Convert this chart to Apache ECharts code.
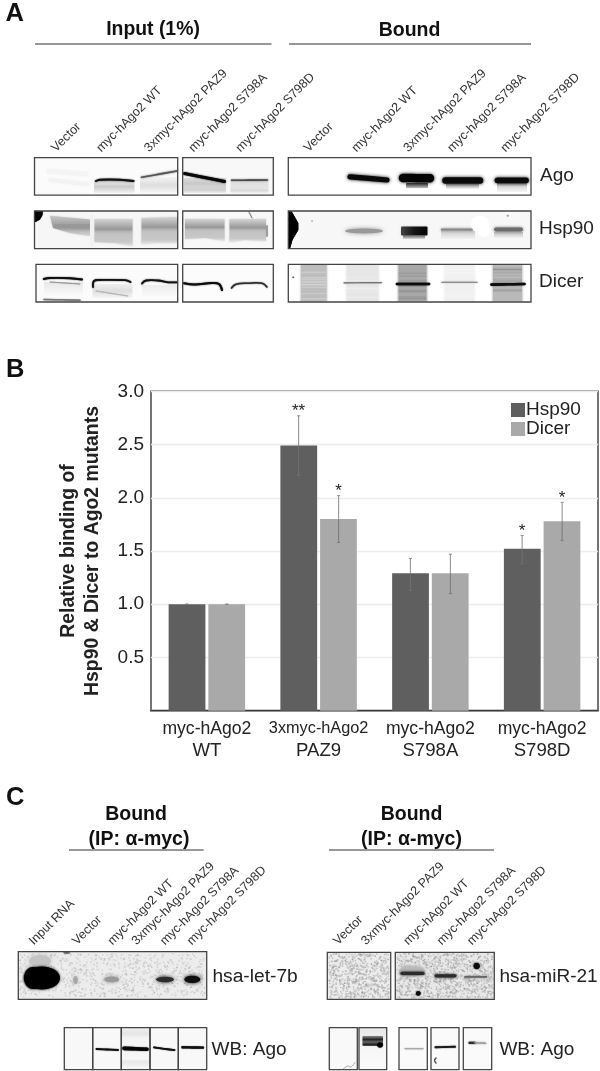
<!DOCTYPE html>
<html>
<head>
<meta charset="utf-8">
<style>html,body{margin:0;padding:0;background:#fff}#c{width:600px;height:1071px}</style>
<script src="https://cdn.jsdelivr.net/npm/echarts@6/dist/echarts.min.js"></script>
</head>
<body>
<div id="c"></div>
<script>
// ---- Panel B data ----
const categories = ['myc-hAgo2\nWT', '3xmyc-hAgo2\nPAZ9', 'myc-hAgo2\nS798A', 'myc-hAgo2\nS798D'];
const hsp90 = [1.0, 2.49, 1.29, 1.52];
const dicer = [1.0, 1.80, 1.29, 1.78];
const hsp90Low = [1.0, 2.21, 1.13, 1.38];
const hsp90High = [1.0, 2.77, 1.43, 1.645];
const dicerLow = [1.0, 1.58, 1.10, 1.60];
const dicerHigh = [1.0, 2.02, 1.47, 1.957];
const hsp90Marks = ['', '**', '', '*'];
const dicerMarks = ['', '*', '', '*'];
const yTicks = [0.5, 1.0, 1.5, 2.0, 2.5, 3.0];

// ---- Text of the blot panels ----
const laneNames = ['Vector', 'myc-hAgo2 WT', '3xmyc-hAgo2 PAZ9', 'myc-hAgo2 S798A', 'myc-hAgo2 S798D'];
const rowNames = ['Ago', 'Hsp90', 'Dicer'];

const FONT = '"Liberation Sans", Arial, sans-serif';
const g = [];

function txt(text, x, y, size, opt) {
  opt = opt || {};
  g.push({type:'text', x:x, y:y, rotation:opt.rot||0, z:20, silent:true, style:{text:text, fontFamily:FONT, fontSize:size,
    fontWeight:opt.bold?'bold':'normal', fill:opt.fill||'#222', textAlign:opt.align||'left', textVerticalAlign:'middle'}});
}
function slanted(text, x, y) { txt(text, x, y, 12.6, {rot:Math.PI/4, fill:'#333'}); }
function rule(x1, x2, y) { g.push({type:'line', z:10, silent:true, shape:{x1:x1,y1:y,x2:x2,y2:y}, style:{stroke:'#333', lineWidth:1.2}}); }
function rect(x, y, w, h, fill, blur, op) {
  g.push({type:'rect', z:5, silent:true, shape:{x:x,y:y,width:w,height:h,r:blur?1:0},
    style:{fill:fill, shadowBlur:blur||0, shadowColor:typeof fill==='string'?fill:'#ccc', opacity:op==null?1:op}});
}
function frame(x, y, w, h) {
  g.push({type:'rect', z:9, silent:true, shape:{x:x,y:y,width:w,height:h}, style:{fill:'none', stroke:'#444', lineWidth:1.3}});
}
function vgrad(stops) { return {type:'linear', x:0, y:0, x2:0, y2:1, colorStops:stops.map(s => ({offset:s[0], color:s[1]}))}; }
function hgrad(stops) { return {type:'linear', x:0, y:0, x2:1, y2:0, colorStops:stops.map(s => ({offset:s[0], color:s[1]}))}; }
function curve(points, w, color, blur, z) {
  g.push({type:'polyline', z:z||6, silent:true, shape:{points:points, smooth:0.4},
    style:{fill:'none', stroke:color, lineWidth:w, shadowBlur:blur==null?2:blur, shadowColor:color, lineCap:'round', lineJoin:'round'}});
}
function band(x1, y1, x2, y2, w, color, blur, z) { curve([[x1,y1],[(x1+x2)/2,(y1+y2)/2],[x2,y2]], w, color, blur, z); }
function poly(points, fill, blur, z) {
  g.push({type:'polygon', z:z||5, silent:true, shape:{points:points, smooth:0},
    style:{fill:fill, shadowBlur:blur||0, shadowColor:typeof fill==='string'?fill:'#ccc'}});
}
function blob(cx, cy, rx, ry, color, blur, z) {
  g.push({type:'ellipse', z:z||6, silent:true, shape:{cx:cx,cy:cy,rx:rx,ry:ry},
    style:{fill:color, shadowBlur:blur==null?3:blur, shadowColor:color}});
}
function grain(i) { const s = Math.sin(i*12.9898)*43758.5453; return s - Math.floor(s); }
function speckle(x, y, w, h, count, seed, dark, op) {
  for (let i = 0; i < count; i++) {
    const px = x + grain(seed+i*3+1)*(w-2), py = y + grain(seed+i*3+2)*(h-2), t = grain(seed+i*3+3);
    const sz = 1 + t*1.1, c = Math.round(dark + t*90);
    rect(px, py, sz, sz, 'rgb('+c+','+c+','+c+')', 0, op);
  }
}
function stripes(x, w, y, h, seed, color) {
  for (let i = 0; i < 9; i++) {
    rect(x+1, y + grain(seed+i)*h, w-2, 1 + grain(seed+i+40)*1.5, color, 0, 0.22);
  }
}

// ---- Panel letters ----
txt('A', 5.5, 14, 25.5, {bold:true, fill:'#111'});
txt('B', 6, 370, 25.5, {bold:true, fill:'#111'});
txt('C', 6, 798, 25.5, {bold:true, fill:'#111'});

// ---- Panel A ----
txt('Input (1%)', 153, 30, 19.4, {bold:true, align:'center', fill:'#111'});
txt('Bound', 409.5, 31, 19.5, {bold:true, align:'center', fill:'#111'});
rule(35, 271.5, 44); rule(289, 531, 44);
[53.6, 98.7, 146.6, 191, 238].forEach((x,i) => slanted(laneNames[i], x, 150));
[306, 354, 405.7, 449.7, 503].forEach((x,i) => slanted(laneNames[i], x, 150));
txt(rowNames[0], 540, 175.5, 19);
txt(rowNames[1], 539, 228.5, 19);
txt(rowNames[2], 539, 281.5, 19);

// Panel grounds
rect(34.5, 157.7, 143.5, 37.6, '#fbfbfb');
rect(182.5, 157.7, 90.5, 37.6, '#f8f8f8');
rect(34.5, 211, 143.5, 37.7, '#f6f6f6');
rect(182.5, 211, 90.5, 37.7, '#f8f8f8');
rect(36, 264.3, 142, 37.7, '#fbfbfb');
rect(182.5, 264.3, 90.5, 37.7, '#fcfcfc');
rect(288, 211, 243, 37.7, '#f7f7f7');

// Ago input
band(49, 171, 86, 174, 5, '#f4f4f4', 2);
band(50, 180, 88, 184, 4, '#f3f3f3', 2);
rect(94, 180, 40.5, 13, vgrad([[0,'#cfcfcf'],[.3,'#dcdcdc'],[.5,'#cbcbcb'],[.75,'#dedede'],[1,'#f1f1f1']]));
rect(140, 177, 38, 16, vgrad([[0,'#f4f4f4'],[.5,'#dedede'],[.7,'#e6e6e6'],[1,'#f6f6f6']]));
rect(184, 178, 42, 15, vgrad([[0,'#ddd'],[.35,'#c9c9c9'],[.6,'#d4d4d4'],[.8,'#d0d0d0'],[1,'#ececec']]));
rect(230.5, 181, 38, 12, vgrad([[0,'#ddd'],[.6,'#e4e4e4'],[.8,'#dadada'],[1,'#f0f0f0']]));
curve([[96,181],[100,179.7],[120,179.7],[133.5,181]], 1.9, '#111', 1.5);
band(141.5, 177.3, 177, 171, 1.6, '#555', 1.8);
band(184.5, 173.5, 224.5, 181.5, 3, '#080808', 1.6);
band(231.5, 180.3, 267.5, 180, 1.6, '#4a4a4a', 1.6);
// Ago bound
band(350, 176.8, 387, 180, 5.2, '#0a0a0a', 3.5);
band(403, 178, 430, 178.3, 8.5, '#030303', 3.5);
rect(406, 183, 22, 5, vgrad([[0,'#333'],[1,'#bbb']]), 1);
band(445.5, 180.6, 480, 180.6, 6.5, '#0a0a0a', 3.5);
rect(446, 184, 33, 5, vgrad([[0,'#999'],[1,'#f4f4f4']]));
band(497.5, 180.3, 526, 180.3, 5.8, '#0a0a0a', 3.5);
rect(497, 183, 30, 9, vgrad([[0,'#999'],[.4,'#d8d8d8'],[1,'#f6f6f6']]));

// Hsp90 input lanes
function lane(pts, stops) { poly(pts, vgrad(stops), 2); }
const laneStops = [[0,'#d4d4d4'],[.2,'#b4b4b4'],[.38,'#989898'],[.47,'#b6b6b6'],[.55,'#c2c2c2'],[.85,'#c8c8c8'],[1,'#e6e6e6']];
lane([[50,215.7],[90,219.5],[90,236],[70,233],[53,228]], [[0,'#c9c9c9'],[.3,'#acacac'],[.6,'#979797'],[.78,'#bcbcbc'],[1,'#d4d4d4']]);
rect(54, 224, 36, 2.5, '#959595', 1, 0.5);
lane([[94.5,219],[132.5,219],[132.5,246],[115,243],[94.5,242]], laneStops);
lane([[141.5,218],[177,217],[177,243],[155,243],[141.5,244]], laneStops);
lane([[185,219],[224.5,219],[224.5,241],[205,238],[185,239]], laneStops);
lane([[229.5,219],[266,219],[266,241],[245,240],[229.5,242]], laneStops);
poly([[34.5,211],[42.7,211],[42.5,215],[40,219.5],[36,221.7],[34.5,222]], '#000', 0.8, 7);
poly([[90,215],[93.5,215],[93.5,247],[90,247]], '#f1f1f1', 0, 6);
band(267, 226, 267, 236, 1.6, '#999', 1);
band(249, 212, 252, 218, 1, '#888', 0.8);
// Hsp90 bound
poly([[288,211],[291.7,211.5],[298.3,223],[298.3,230],[292.5,240],[290,248.7],[288,248.7]], '#000', 0.6, 7);
blob(364, 231, 19, 2.4, '#999', 4);
rect(401, 226.5, 26.5, 9, hgrad([[0,'#444'],[.5,'#151515'],[1,'#050505']]), 2.5);
rect(403, 235, 22, 4, vgrad([[0,'#555'],[1,'#ddd']]));
band(442, 229.6, 472, 229.6, 2.4, '#8a8a8a', 3);
rect(441, 231, 34, 8, vgrad([[0,'#ccc'],[1,'#f2f2f2']]));
band(496, 229.4, 521, 229.4, 4, '#6c6c6c', 3);
rect(494, 232, 29, 6, vgrad([[0,'#bbb'],[1,'#f2f2f2']]));
blob(480, 224, 9, 8, '#fff', 1.5, 8);
blob(484, 231, 6.5, 5.5, '#fff', 1.5, 8);
blob(507.7, 215.7, 0.9, 0.9, '#999', 0.8);
blob(312, 221, 1, 0.7, '#bbb', 0.8);

// Dicer input
rect(92.5, 284, 40, 14, vgrad([[0,'#eee'],[.5,'#dedede'],[1,'#f5f5f5']]));
rect(44, 282, 39, 14, vgrad([[0,'#e8e8e8'],[1,'#fafafa']]));
rect(142, 285, 36, 12, vgrad([[0,'#ececec'],[1,'#fbfbfb']]));
curve([[43.8,279],[50,278],[70,278.2],[82,279.5]], 1.9, '#0c0c0c', 1.4);
curve([[93,287],[94,281],[100,280],[125,280.2],[130.5,282]], 1.8, '#111', 1.4);
curve([[142,283.5],[146,280.5],[158,280.5],[168,282.3],[177,282.3]], 1.8, '#111', 1.4);
curve([[184,283.3],[195,284.5],[212,283],[219,284],[222,290]], 2.1, '#0a0a0a', 1.4);
curve([[231.5,288],[236,284.2],[248,283.2],[262,283.2],[267,287]], 1.5, '#2c2c2c', 1.4);
band(50, 282, 80, 284, 1, '#999', 1);
band(44, 299.4, 80, 300.2, 1.5, '#777', 1);
band(96, 291, 128, 296, 1, '#b5b5b5', 1);
// Dicer bound
function darkLane(x, w, color, seed, stripeColor) {
  rect(x, 265, w, 36.5, hgrad([[0,'rgba(255,255,255,0)'],[.1,color],[.9,color],[1,'rgba(255,255,255,0)']]));
  stripes(x+2, w-4, 266, 33, seed, stripeColor);
}
darkLane(298.3, 31, '#bdbdbd', 3, '#fff');
darkLane(343.3, 38.5, '#e6e6e6', 15, '#fff');
darkLane(395.5, 34, '#a8a8a8', 31, '#666');
darkLane(441.5, 36, '#f0f0f0', 55, '#fff');
darkLane(490, 35, '#b9b9b9', 77, '#777');
band(344, 282.8, 381.5, 282.6, 1.2, '#777', 1.2, 7);
band(397, 284, 429, 284, 2.6, '#0a0a0a', 1.2, 7);
band(442, 282.4, 477, 282.4, 1.2, '#8e8e8e', 1.2, 7);
band(491.5, 284.6, 524.5, 284, 2.6, '#0e0e0e', 1.2, 7);
blob(293.3, 277.3, 0.9, 0.9, '#666', 0.5);

[[157.7,37.4],[211,37.7],[264.3,37.7]].forEach((r,i) => {
  frame(i===2?36:34.5, r[0], i===2?141.7:143.2, r[1]);
  frame(182.7, r[0], 90.6, r[1]);
  frame(288.3, r[0], 242.7, r[1]);
});

// ---- Panel C ----
txt('Bound', 136, 815, 19.5, {bold:true, align:'center', fill:'#111'});
txt('(IP: α-myc)', 139, 840, 19.5, {bold:true, align:'center', fill:'#111'});
rule(69, 203.6, 850);
txt('Bound', 411.5, 815, 19.5, {bold:true, align:'center', fill:'#111'});
txt('(IP: α-myc)', 411.5, 840, 19.5, {bold:true, align:'center', fill:'#111'});
rule(329, 494, 850);
slanted('Input RNA', 31.4, 943);
[74.6, 110, 134, 162.6, 189.4].forEach((x,i) => slanted(laneNames[i], x, 943));
[[335.6,0],[363.6,2],[405.7,1],[439.3,3],[469.6,4]].forEach(p => slanted(laneNames[p[1]], p[0], 943));

// let-7b
rect(18.3, 951.7, 188.4, 47.6, '#ececec');
speckle(19, 953, 187, 45, 760, 11, 110, 0.34);
blob(40, 961, 11, 6, '#c4c4c4', 7);
blob(66.7, 952.8, 3.5, 0.9, '#666', 1.5);
blob(33, 978, 9, 11, '#000', 2.5);
blob(42, 978, 18, 11.5, '#000', 2.5);
blob(75.5, 980, 2.2, 4, '#a6a6a6', 3.5);
blob(111.7, 979.4, 7.5, 2.8, '#9a9a9a', 4);
blob(165, 979.5, 9, 2.8, '#2c2c2c', 4);
blob(192.3, 979.4, 8, 3.6, '#0f0f0f', 4);
frame(18.3, 951.7, 188.4, 47.6);
txt('hsa-let-7b', 212.4, 977, 19.2);
// miR-21
rect(327.3, 952.3, 63.4, 47, '#ececec');
rect(395.3, 952.3, 99, 47, '#e8e8e8');
speckle(328, 953, 62, 46, 640, 211, 95, 0.4);
speckle(396, 953, 98, 46, 1000, 517, 95, 0.4);
blob(412, 971, 13, 5, '#bbb', 4);
band(402, 973.3, 423, 973.3, 3.2, '#2c2c2c', 3, 7);
band(436, 975.8, 455, 975.8, 3.2, '#2c2c2c', 3, 7);
band(465, 976.8, 486.5, 976.8, 1.8, '#666', 2.5, 7);
blob(418.3, 993.3, 2.4, 2.4, '#0c0c0c', 1.5, 7);
blob(476.7, 966, 3.2, 3.2, '#0c0c0c', 1.5, 7);
frame(327.3, 952.3, 63.4, 47);
frame(395.3, 952.3, 99, 47);
txt('hsa-miR-21', 499.4, 977, 19);

// WB: Ago rows
rect(64.3, 1027.7, 142.4, 42, '#f8f8f8');
rect(122, 1028, 28, 41, vgrad([[0,'#f0f0f0'],[.14,'#e4e4e4'],[.25,'#f4f4f4'],[.75,'#f7f7f7'],[.82,'#e8e8e8'],[1,'#f8f8f8']]));
band(96.5, 1049, 118, 1050, 1.8, '#111', 1);
band(124, 1048.4, 147, 1049.2, 3.6, '#050505', 1.2);
band(154, 1047.4, 174.5, 1050.2, 1.8, '#111', 1);
band(182.5, 1047.3, 203, 1047.6, 2.4, '#111', 1);
[[64.3,28.4],[92.7,28.6],[121.3,28.7],[150,28.3],[178.3,28.4]].forEach(p => frame(p[0], 1027.7, p[1], 42));
txt('WB: Ago', 211.6, 1050, 19);

rect(329.3, 1027.7, 28, 42, '#f9f9f9');
rect(359, 1027.7, 27.7, 42, vgrad([[0,'#e6e6e6'],[.5,'#f6f6f6'],[1,'#fbfbfb']]));
rect(399, 1027.7, 28.3, 42, '#fafafa');
rect(431, 1027.7, 28, 42, '#fafafa');
rect(463.3, 1027.7, 28.4, 42, '#fafafa');
rect(362.5, 1036, 20.5, 10, vgrad([[0,'#888'],[.35,'#222'],[.6,'#666'],[.85,'#222'],[1,'#555']]), 1.2);
blob(380, 1045, 3, 2.6, '#000', 1, 7);
band(405, 1048.7, 423, 1048.7, 1.2, '#a8a8a8', 1.5);
band(435.5, 1047.3, 455, 1046.7, 1.9, '#1a1a1a', 1.2);
band(469.5, 1042.8, 475, 1042.8, 2.2, '#2c2c2c', 1.5);
band(475, 1042.8, 485.5, 1043.2, 1.6, '#999', 2);
curve([[436,1058],[434.5,1060.5],[436,1063]], 1.1, '#555', 0.5);
curve([[343.5,1068.5],[348,1066],[351,1067],[355,1062.5]], 0.8, '#b5b5b5', 0.5);
[[329.3,28],[359,27.7],[399,28.3],[431,28],[463.3,28.4]].forEach(p => frame(p[0], 1027.7, p[1], 42));
txt('WB: Ago', 499.4, 1050, 19);

// ---- Panel B chart ----
function errorSeries(name, lows, highs, tops, marks, side, innerColor) {
  return {
    type:'custom', name:name + ' error', z:8, silent:true,
    data: categories.map((c,i) => [i, lows[i], highs[i], tops[i]]),
    encode:{x:0, y:[1,2]},
    renderItem:function (params, api) {
      const i = api.value(0);
      const x = api.coord([i, 0])[0] + side * api.size([1, 0])[0] * 0.179;
      const yLow = api.coord([i, api.value(1)])[1];
      const yHigh = api.coord([i, api.value(2)])[1];
      const yTop = api.coord([i, api.value(3)])[1];
      const seg = (a,b,c,d,col) => ({type:'line', shape:{x1:a,y1:b,x2:c,y2:d}, style:{stroke:col, lineWidth:1}});
      return {type:'group', children:[
        seg(x, yHigh, x, yTop, '#8c8c8c'),
        seg(x, yTop, x, yLow, innerColor),
        seg(x-1.5, yHigh, x+1.5, yHigh, '#8c8c8c'),
        seg(x-1.5, yLow, x+1.5, yLow, innerColor),
        {type:'text', x:x, y:yHigh-4, style:{text:marks[i], fontFamily:FONT, fontSize:17, fill:'#222', textAlign:'center', textVerticalAlign:'middle'}}
      ]};
    }
  };
}

const chart = echarts.init(document.getElementById('c'), null, {renderer:'canvas'});
chart.setOption({
  animation:false,
  backgroundColor:'#fff',
  textStyle:{fontFamily:FONT},
  grid:{left:151, right:2, top:391.3, height:319.4, show:true, borderColor:'#3a3a3a', borderWidth:1.4, backgroundColor:'transparent'},
  legend:{
    data:['Hsp90','Dicer'], orient:'vertical', left:511, top:400.5, padding:0, itemGap:0, itemWidth:14, itemHeight:14,
    icon:'rect', selectedMode:false, textStyle:{fontFamily:FONT, fontSize:19, color:'#222', padding:[0,0,0,-4]}
  },
  xAxis:{
    type:'category', data:categories, axisTick:{show:false},
    axisLine:{show:true, lineStyle:{color:'#3a3a3a', width:1.4}},
    axisLabel:{
      interval:0, margin:7, color:'#222',
      formatter:function (v) {
        const p = v.split('\n');
        return '{' + (p[0].charAt(0)==='3' ? 'small' : 'top') + '|' + p[0] + '}\n{bottom|' + p[1] + '}';
      },
      rich:{
        top:{fontFamily:FONT, fontSize:17.6, lineHeight:22, color:'#222'},
        small:{fontFamily:FONT, fontSize:16.3, lineHeight:22, color:'#222'},
        bottom:{fontFamily:FONT, fontSize:18.6, lineHeight:22, color:'#222'}
      }
    }
  },
  yAxis:{
    type:'value', min:0, max:3, interval:0.5,
    name:'Relative binding of\nHsp90 & Dicer to Ago2 mutants', nameLocation:'middle', nameRotate:90, nameGap:46,
    nameTextStyle:{fontFamily:FONT, fontSize:19.4, fontWeight:'bold', color:'#222', lineHeight:24},
    axisLine:{show:false}, axisTick:{show:false},
    axisLabel:{margin:7, fontFamily:FONT, fontSize:19, color:'#222',
      formatter:function (v) { return yTicks.indexOf(v) >= 0 ? v.toFixed(1) : ''; }},
    splitLine:{show:true, lineStyle:{color:'#ececec', width:1.4}}
  },
  series:[
    {type:'bar', name:'Hsp90', data:hsp90, barWidth:'32.9%', barGap:'8%', itemStyle:{color:'#5f5f5f'}, z:3},
    {type:'bar', name:'Dicer', data:dicer, barWidth:'32.9%', itemStyle:{color:'#a9a9a9'}, z:3},
    errorSeries('Hsp90', hsp90Low, hsp90High, hsp90, hsp90Marks, -1, '#707070'),
    errorSeries('Dicer', dicerLow, dicerHigh, dicer, dicerMarks, 1, '#7a7a7a')
  ],
  graphic:{elements:g}
});
</script>
</body>
</html>
